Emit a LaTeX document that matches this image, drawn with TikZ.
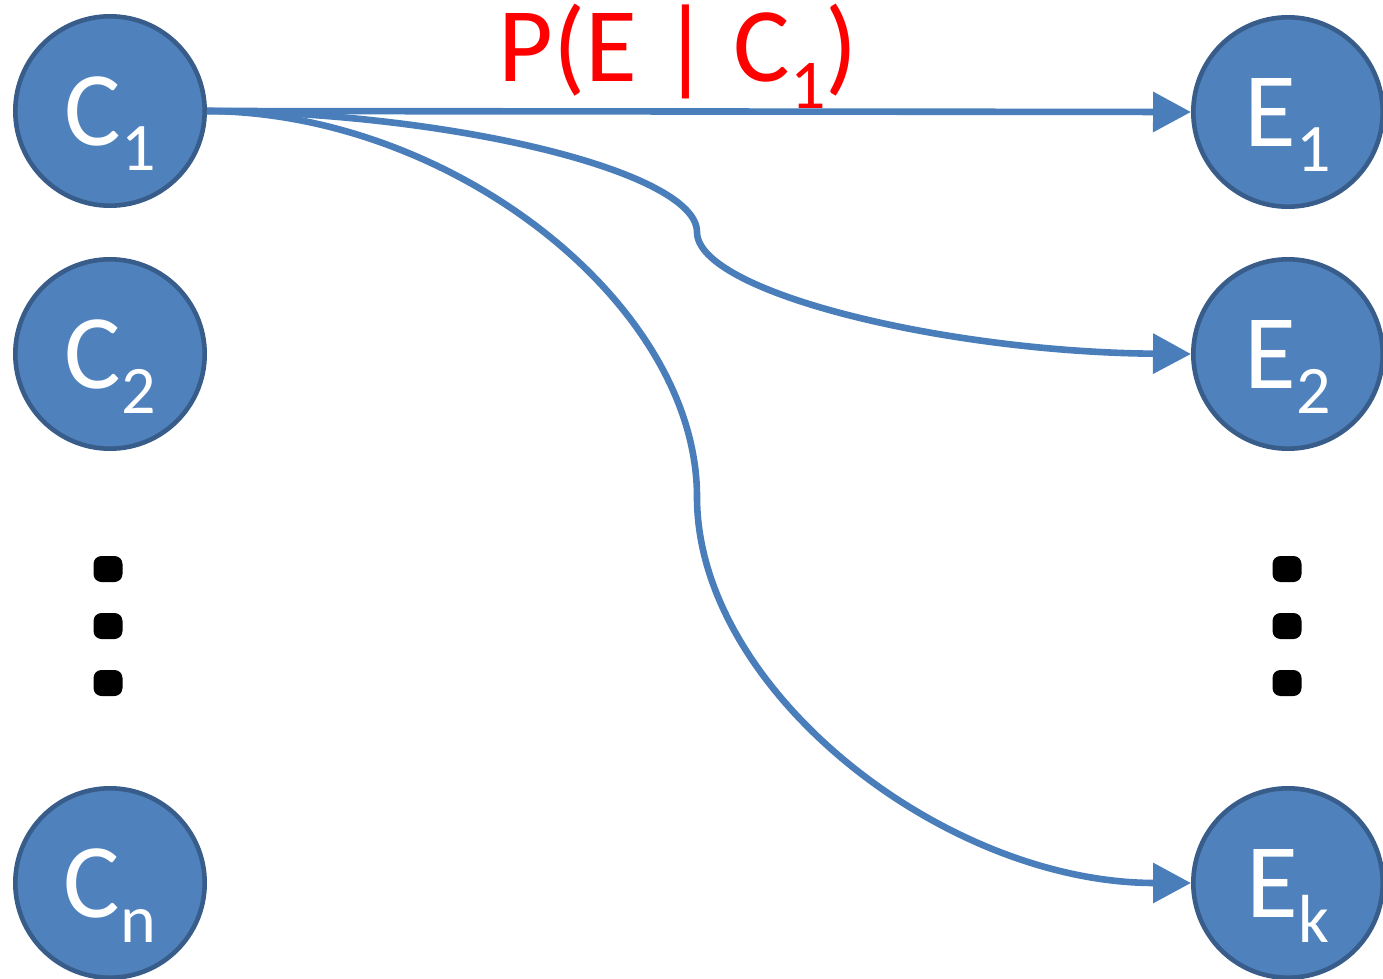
\documentclass[tikz,border=0pt]{standalone}
\usepackage{fontspec}
\setmainfont{Carlito}
\usetikzlibrary{arrows.meta}
\definecolor{nodefill}{HTML}{4F81BD}
\definecolor{nodeborder}{HTML}{385D8A}
\definecolor{linkblue}{HTML}{4A7EBB}
\definecolor{labelred}{HTML}{FF0000}
\newcommand{\bigtxt}[2]{{\fontsize{53}{53}\selectfont #1\raisebox{-12.5pt}{\fontsize{34}{34}\selectfont #2}}}
\newcommand{\redtxt}[2]{{\fontsize{53}{53}\selectfont #1\raisebox{-13.5pt}{\fontsize{35}{35}\selectfont #2}}}
\tikzset{
  ball/.style={circle, fill=nodefill, draw=nodeborder, line width=2.3pt,
    minimum size=94.7pt, inner sep=0pt, text=white, text depth=0pt},
  dotmark/.style={rectangle, fill=black, rounded corners=4pt,
    minimum width=14.5pt, minimum height=13pt, inner sep=0pt},
  link/.style={draw=linkblue, line width=3.3pt,
    -{Triangle[length=19pt,width=19.5pt]}},
}
\begin{document}
\begin{tikzpicture}[x=0.5pt,y=-0.5pt]
\useasboundingbox (0,0) rectangle (1383,979);
% causes
\node[ball] (c1) at (110,111) {\bigtxt{C}{1}};
\node[ball] (c2) at (110,354) {\bigtxt{C}{2}};
\node[ball] (cn) at (110,883) {\bigtxt{C}{n}};
% effects
\node[ball] (e1) at (1288,112) {\bigtxt{E}{1}};
\node[ball] (e2) at (1288,354) {\bigtxt{E}{2}};
\node[ball] (ek) at (1288,883) {\bigtxt{E}{k}};
% dots
\node[dotmark] (ld1) at (108,569) {};
\node[dotmark] (ld2) at (108,626) {};
\node[dotmark] (ld3) at (108,683) {};
\node[dotmark] (rd1) at (1287,569) {};
\node[dotmark] (rd2) at (1287,626) {};
\node[dotmark] (rd3) at (1287,683) {};
% label
\node[anchor=base west, inner sep=0pt, text=labelred] (lab) at (498,82)
  {\redtxt{P(E | C}{1}{\fontsize{53}{53}\selectfont )}};
% connectors
\path[link] (c1.east) -- (e1.west);
\path[link] (c1.east) .. controls (452,112) and (697,172) .. (697,232)
  .. controls (697,292) and (944,352) .. (e2.west);
\path[link] (c1.east) .. controls (452,112) and (697,304) .. (697,497)
  .. controls (697,690) and (944,883) .. (ek.west);
\end{tikzpicture}
\end{document}
